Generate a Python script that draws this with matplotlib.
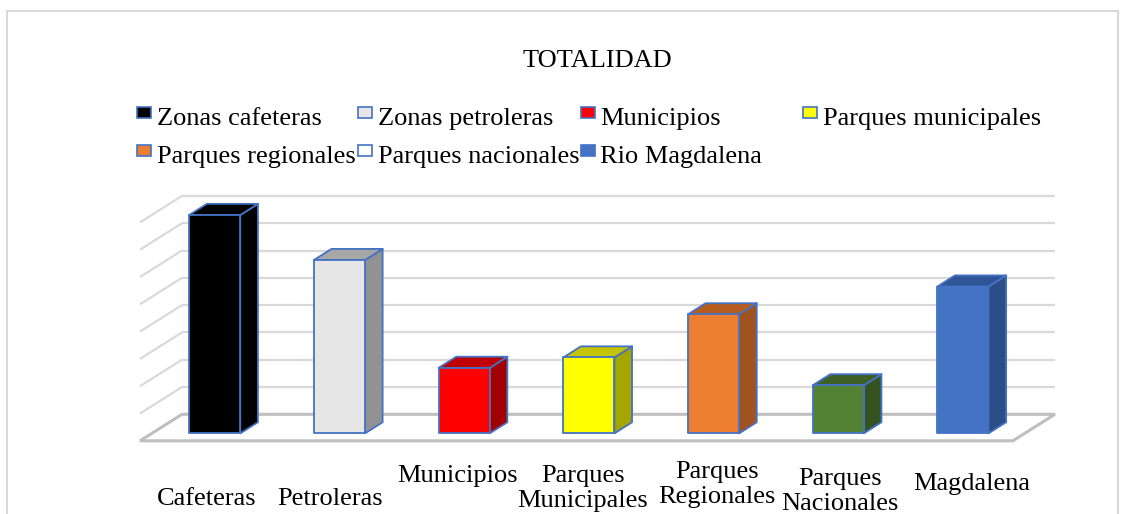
import matplotlib
matplotlib.use("Agg")
import matplotlib.pyplot as plt
from matplotlib.patches import Polygon, Rectangle

# data (values in grid units, the chart has no value axis)
categories = ["Cafeteras", "Petroleras", "Municipios", "Parques\nMunicipales",
              "Parques\nRegionales", "Parques\nNacionales", "Magdalena"]
values = [8.0, 6.35, 2.4, 2.78, 4.36, 1.76, 5.38]
series_names = ["Zonas cafeteras", "Zonas petroleras", "Municipios", "Parques municipales",
                "Parques regionales", "Parques nacionales", "Rio Magdalena"]

# bar colours: front, side, top
front_colors = ["#000000", "#e7e6e6", "#ff0000", "#ffff00", "#ed7d31", "#548235", "#4472c4"]
side_colors = ["#000000", "#929292", "#a30000", "#a6a600", "#a0521f", "#36531f", "#2d4d87"]
top_colors = ["#000000", "#a6a6a6", "#c00000", "#c4c400", "#b55b1e", "#3d6027", "#2f5597"]
legend_colors = ["#000000", "#e7e6e6", "#ff0000", "#ffff00", "#ed7d31", "#ffffff", "#4472c4"]

W, H = 1125, 514
FONT = "Liberation Serif"
FS = 19
EDGE = "#4472c4"

def fx(px):
    return px / W

def fy(py):
    return 1 - py / H

fig = plt.figure(figsize=(W / 100, H / 100), dpi=100)
fig.patch.set_facecolor("white")

# chart border
fig.add_artist(Rectangle((fx(7), fy(530)), fx(1118) - fx(7), fy(10.5) - fy(530),
                         transform=fig.transFigure, fill=False, ec="#d9d9d9", lw=1.5))

# plot area: x in category units, y in grid units, back wall origin
X0, CAT, Y0, UNIT = 182, 124.7, 414.3, 27.3
ax = fig.add_axes([fx(120), fy(460), (1080 - 120) / W, (460 - 180) / H])
ax.set_xlim((120 - X0) / CAT, (1080 - X0) / CAT)
ax.set_ylim((Y0 - 460) / UNIT, (Y0 - 180) / UNIT)
ax.axis("off")

# oblique depth offset (front = 1)
DX = -42 / CAT
DY = -26.5 / UNIT
n = len(values)

def pt(x, y, d):
    return (x + d * DX, y + d * DY)

# floor
floor = Polygon([pt(0, 0, 0), pt(n, 0, 0), pt(n, 0, 1), pt(0, 0, 1)], closed=True,
                fc="white", ec="#bfbfbf", lw=2.2, zorder=1)
ax.add_patch(floor)

# gridlines on the back and left walls
for v in range(1, 9):
    ax.plot([0, n], [v, v], color="#d9d9d9", lw=1.6, zorder=2, solid_capstyle="butt")
    ax.plot([0, DX], [v, v + DY], color="#d9d9d9", lw=1.6, zorder=2, solid_capstyle="butt")

# 3d bars
left_off, bar_w, d_front, d_back = 0.30, 0.41, 0.72, 0.30
for i, v in enumerate(values):
    l = i + left_off
    r = l + bar_w
    front = [pt(l, 0, d_front), pt(r, 0, d_front), pt(r, v, d_front), pt(l, v, d_front)]
    side = [pt(r, 0, d_front), pt(r, 0, d_back), pt(r, v, d_back), pt(r, v, d_front)]
    top = [pt(l, v, d_front), pt(r, v, d_front), pt(r, v, d_back), pt(l, v, d_back)]
    for poly, col in [(side, side_colors[i]), (top, top_colors[i]), (front, front_colors[i])]:
        ax.add_patch(Polygon(poly, closed=True, fc=col, ec=EDGE, lw=1.3,
                             joinstyle="round", zorder=3))

# title
fig.text(fx(597), fy(66.7), "TOTALIDAD", ha="center", va="baseline",
         fontsize=FS, family=FONT)

# legend, laid out like the original (4 columns, row major)
leg_marker_x = [137, 358, 581, 803]
leg_text_x = [157, 378, 600, 823]
leg_rows = [(107, 125), (145, 163)]
for k, name in enumerate(series_names):
    row, col = divmod(k, 4)
    top_px, base_px = leg_rows[row]
    fig.add_artist(Rectangle((fx(leg_marker_x[col]), fy(top_px + 11)), 14 / W, 11 / H,
                             transform=fig.transFigure, fc=legend_colors[k], ec=EDGE, lw=1.2))
    fig.text(fx(leg_text_x[col]), fy(base_px), name, ha="left", va="baseline",
             fontsize=FS, family=FONT)

# category labels (staggered as in the original)
label_x = [207, 330, 458, 583, 717, 840, 972]
label_base = [505, 505, 482, 481.7, 478.3, 485, 490]
LINE = 25
for lab, x, b in zip(categories, label_x, label_base):
    for j, line in enumerate(lab.split("\n")):
        fig.text(fx(x), fy(b + j * LINE), line, ha="center", va="baseline",
                 fontsize=FS, family=FONT)

fig.savefig("out.png", dpi=100)
